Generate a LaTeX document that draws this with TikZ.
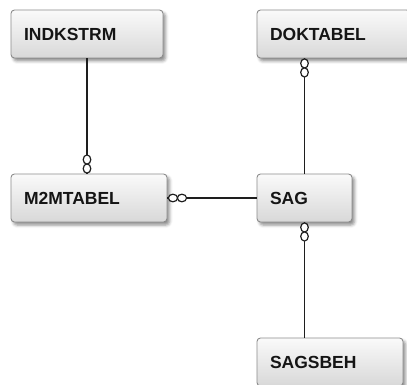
\documentclass[tikz,border=0pt]{standalone}
\usepackage{fontspec}
\setmainfont{Liberation Sans}
\usetikzlibrary{shadows.blur,calc}
\definecolor{boxborder}{HTML}{8C8C8C}
\definecolor{boxtop}{HTML}{FAFAFA}
\definecolor{boxbot}{HTML}{D8D8D8}
\definecolor{lnk}{HTML}{1E1E1E}
\definecolor{txt}{HTML}{151515}
\tikzset{
  ent/.style={draw=boxborder, line width=0.9pt, rounded corners=3.5pt,
    top color=boxtop, bottom color=boxbot, minimum height=48pt,
    inner xsep=13pt, inner ysep=0pt, align=left, text=txt,
    font=\fontsize{17.5}{20}\selectfont\bfseries,
    blur shadow={shadow xshift=2.5pt, shadow yshift=-3pt, shadow blur radius=3pt, shadow opacity=45}},
  link/.style={draw=lnk, line width=1.3pt},
  ring/.style={draw=lnk, line width=1.2pt, fill=white}
}
\begin{document}
\begin{tikzpicture}[x=1pt,y=1pt]
\useasboundingbox (0,0) rectangle (407,-385);
\node[ent, text width=126pt] (ind) at (87,-34) {INDKSTRM};
\node[ent, text width=130pt] (m2m) at (89,-198) {M2MTABEL};
\node[ent, text width=127pt] (dok) at (333.5,-34) {DOKTABEL};
\node[ent, text width=69pt] (sag) at (304.5,-198) {SAG};
\node[ent, text width=120pt] (beh) at (330,-362) {SAGSBEH};
% connectors
\draw[link] (ind.south) -- (ind.south |- m2m.north);
\draw[link] (sag.north) -- (sag.north |- dok.south);
\draw[link] (sag.south) -- (sag.south |- beh.north);
\draw[link] (m2m.east |- sag.west) -- (sag.west);
% zero-or-many rings
\coordinate (a) at (ind.south |- m2m.north);
\draw[ring] ($(a)+(0,5)$) ellipse [x radius=3.8pt, y radius=4.6pt];
\draw[ring] ($(a)+(0,14)$) ellipse [x radius=3.8pt, y radius=4.6pt];
\coordinate (b) at (sag.north |- dok.south);
\draw[ring] ($(b)+(0,-5)$) ellipse [x radius=3.8pt, y radius=4.6pt];
\draw[ring] ($(b)+(0,-14)$) ellipse [x radius=3.8pt, y radius=4.6pt];
\coordinate (c) at (sag.south);
\draw[ring] ($(c)+(0,-5)$) ellipse [x radius=3.8pt, y radius=4.6pt];
\draw[ring] ($(c)+(0,-14)$) ellipse [x radius=3.8pt, y radius=4.6pt];
\coordinate (d) at (m2m.east |- sag.west);
\draw[ring] ($(d)+(5.5,0)$) ellipse [x radius=4.6pt, y radius=3.8pt];
\draw[ring] ($(d)+(14.5,0)$) ellipse [x radius=4.6pt, y radius=3.8pt];
\end{tikzpicture}
\end{document}
